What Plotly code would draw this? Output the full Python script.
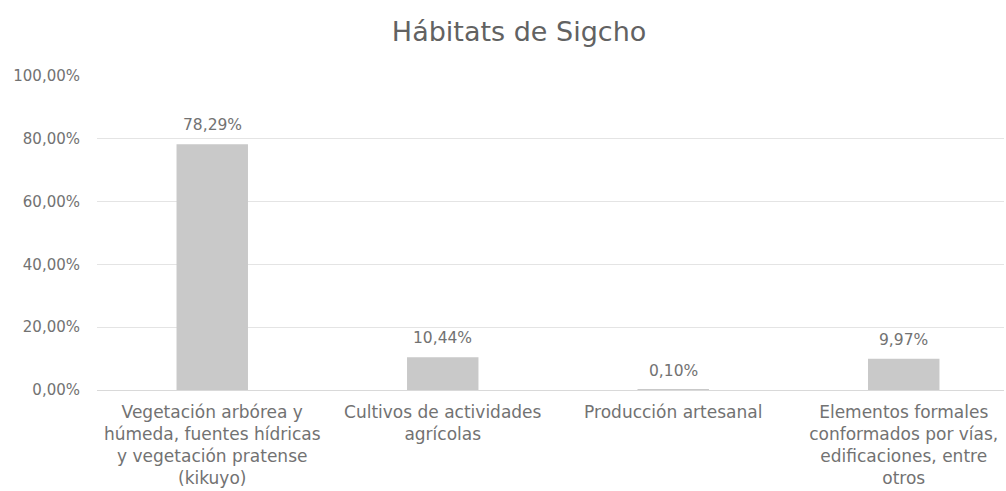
import plotly.graph_objects as go

# Habitat categories and their share of the total
categories = [
    "Vegetación arbórea y<br>húmeda, fuentes hídricas<br>y vegetación pratense<br>(kikuyo)",
    "Cultivos de actividades<br>agrícolas",
    "Producción artesanal",
    "Elementos formales<br>conformados por vías,<br>edificaciones, entre<br>otros",
]
shares = [78.29, 10.44, 0.10, 9.97]
value_labels = ["78,29%", "10,44%", "0,10%", "9,97%"]
y_ticks = [0, 20, 40, 60, 80, 100]
y_tick_labels = ["0,00%", "20,00%", "40,00%", "60,00%", "80,00%", "100,00%"]

FONT = "DejaVu Sans"
TEXT = "#727272"

fig = go.Figure(
    go.Bar(
        x=list(range(len(categories))),
        y=shares,
        marker=dict(color="#c9c9c9", line=dict(width=0)),
        hoverinfo="skip",
    )
)

# value labels above each bar
for i, (v, t) in enumerate(zip(shares, value_labels)):
    fig.add_annotation(
        x=i, y=v, text=t, showarrow=False, yanchor="bottom", yshift=8,
        font=dict(family=FONT, size=15.5, color=TEXT),
    )

fig.update_layout(
    width=1006,
    height=491,
    margin=dict(l=97, r=2, t=76, b=101),
    paper_bgcolor="white",
    plot_bgcolor="white",
    showlegend=False,
    bargap=0.69,
    title=dict(
        text="Hábitats de Sigcho",
        x=0.516, xanchor="center", y=1 - 32 / 491, yanchor="middle",
        font=dict(family=FONT, size=27, color="#626262"),
    ),
    xaxis=dict(
        range=[-0.5, 3.435],
        tickmode="array",
        tickvals=list(range(len(categories))),
        ticktext=categories,
        showgrid=False,
        zeroline=False,
        showline=False,
        ticks="",
        automargin=False,
        ticklabelstandoff=10,
        tickfont=dict(family=FONT, size=17, color=TEXT),
    ),
    yaxis=dict(
        range=[0, 100],
        tickmode="array",
        tickvals=y_ticks,
        ticktext=y_tick_labels,
        showgrid=True,
        gridcolor="#e4e4e4",
        gridwidth=1,
        zeroline=True,
        zerolinecolor="#d9d9d9",
        zerolinewidth=1,
        showline=False,
        ticks="",
        automargin=False,
        ticklabelstandoff=16,
        tickfont=dict(family=FONT, size=15, color=TEXT),
    ),
)

fig.write_html("out.html")
